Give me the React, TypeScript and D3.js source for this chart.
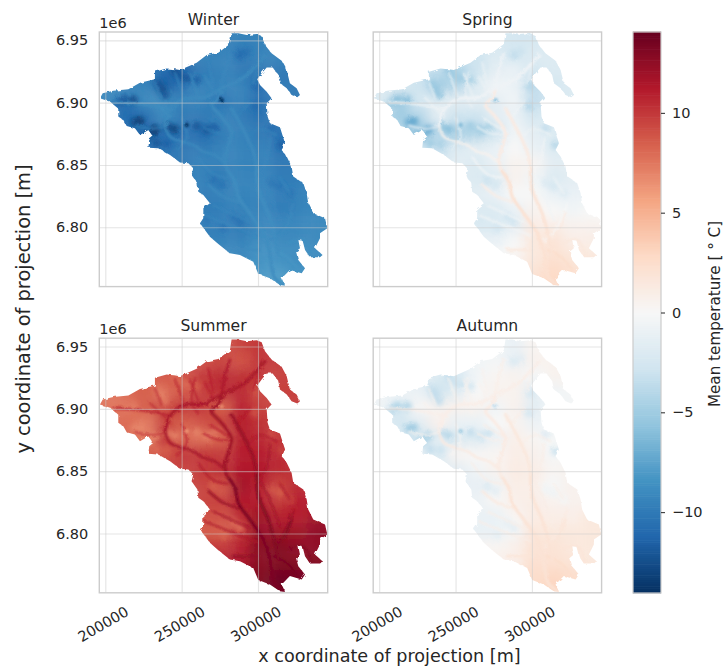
import React, { useEffect, useRef } from 'react';
import * as d3 from 'd3';

// coordinates below are in km of the projection
const seasons = ['Winter', 'Spring', 'Summer', 'Autumn'];

const outline: [number, number][] = [
  [282.7, 6955.6], [287.1, 6955.6], [292.6, 6954.3], [299.1, 6955.1], [302.4, 6953.5], [304.6, 6946.3], [308.9, 6939.6],
  [315.5, 6933.7], [318.8, 6926.2], [320.9, 6915.5], [325.3, 6911.5], [327.5, 6906.1], [325.7, 6904.3], [322.0, 6906.1],
  [318.8, 6911.5], [314.4, 6915.5], [313.3, 6922.2], [309.6, 6928.3], [305.7, 6928.3], [302.4, 6923.5], [299.5, 6918.7],
  [301.3, 6914.2], [305.7, 6908.8], [308.9, 6903.5], [305.7, 6899.5], [306.3, 6888.8], [307.8, 6883.4], [314.4, 6880.2],
  [317.7, 6867.4], [315.5, 6862.0], [318.8, 6856.7], [322.0, 6848.7], [323.1, 6840.7], [329.7, 6835.3], [331.9, 6827.3],
  [332.9, 6819.2], [336.2, 6811.2], [343.9, 6807.2], [345.4, 6799.2], [340.6, 6795.2], [340.6, 6791.2], [337.3, 6783.1],
  [342.3, 6777.8], [340.6, 6775.9], [334.0, 6775.9], [330.8, 6781.8], [329.2, 6789.3], [326.4, 6789.8], [327.5, 6783.1],
  [324.9, 6780.5], [326.4, 6773.8], [330.8, 6767.1], [328.6, 6763.1], [320.9, 6765.8], [315.5, 6759.1], [317.7, 6753.2],
  [314.4, 6753.7], [307.8, 6759.1], [300.2, 6762.6], [296.9, 6772.4], [288.2, 6777.8], [281.6, 6779.1], [274.0, 6786.6],
  [268.5, 6792.5], [262.0, 6803.2], [264.2, 6807.2], [264.2, 6815.2], [268.5, 6819.2], [264.2, 6825.9], [260.9, 6828.6],
  [260.3, 6835.3], [256.5, 6842.0], [257.6, 6847.3], [254.4, 6851.3], [248.9, 6851.9], [242.4, 6858.0], [234.7, 6863.4],
  [228.2, 6863.9], [228.8, 6870.0], [231.4, 6872.7], [228.2, 6878.1], [222.7, 6874.1], [219.4, 6879.4], [214.0, 6881.3],
  [211.8, 6886.1], [208.5, 6888.8], [208.5, 6895.4], [203.1, 6900.8], [196.5, 6903.5], [198.3, 6907.5], [205.2, 6909.6],
  [215.1, 6910.7], [222.7, 6916.0], [232.5, 6918.7], [232.5, 6924.9], [240.2, 6927.5], [248.9, 6926.2], [259.8, 6932.1],
  [266.4, 6938.2], [274.0, 6940.1], [281.6, 6947.1],
];

// coarse mean temperature per season
const gridX = [201, 214, 226, 239, 251, 264, 276, 289, 301, 314, 326, 339];
const gridY = [6951, 6939, 6926, 6914, 6901, 6889, 6876, 6864, 6851, 6839, 6826, 6814, 6801, 6789, 6776, 6764, 6751];

const winter = [
  [-9.5, -9.5, -9.5, -9.5, -9.5, -9.5, -9.5, -9.5, -9.5, -9.5, -9.5, -9.5],
  [-9.5, -9.5, -9.5, -10, -10, -9.5, -9.5, -10.2, -9.5, -9.5, -9.5, -9.5],
  [-10, -10, -10, -11, -11.3, -10, -9.5, -10, -10, -10, -10, -10],
  [-9, -9, -9.5, -11.5, -10.5, -9.5, -9.5, -9.5, -10.5, -10, -10, -10],
  [-9, -10.5, -9, -9, -9.5, -9.5, -10.3, -9.5, -10.5, -10, -10, -10],
  [-10, -11, -10.5, -9, -10, -10, -9.5, -10, -10.5, -10, -10, -10],
  [-10, -10.5, -11.5, -11, -10.5, -11, -10, -9.5, -10, -10.5, -10, -10],
  [-10, -10, -10.5, -10.5, -10, -10, -9.5, -9.5, -9.5, -10.5, -10, -10],
  [-10, -10, -10, -10, -10, -9.5, -9.5, -9.5, -9.5, -10, -10, -10],
  [-9.8, -9.8, -9.8, -9.8, -9.8, -9.5, -10, -9.3, -9.3, -9.8, -9.8, -9.8],
  [-9.5, -9.5, -9.5, -9.5, -9.5, -9.7, -9.5, -9.5, -9.3, -9.7, -9.5, -9.5],
  [-9.5, -9.5, -9.5, -9.5, -9.5, -9.8, -9.8, -9.5, -9.3, -9.8, -9.5, -9.3],
  [-9.5, -9.5, -9.5, -9.5, -9.5, -9.7, -9.7, -10, -9.2, -9.2, -9.2, -9],
  [-9.5, -9.5, -9.5, -9.5, -9.5, -9.5, -9.5, -9.5, -8.8, -9, -9, -9],
  [-9, -9, -9, -9, -9, -9, -9, -9.2, -8.5, -8.7, -8.8, -8.8],
  [-8.5, -8.5, -8.5, -8.5, -8.5, -8.5, -8.5, -8.5, -8.2, -8, -8.5, -8.5],
  [-8, -8, -8, -8, -8, -8, -8, -8, -8, -8, -8, -8],
];

const spring = [
  [-2, -2, -2, -2, -2, -2, -2.5, -2.5, -2.5, -2, -2, -2],
  [-3, -3, -3, -3, -3, -3, -2, -2.8, -2, -2, -2, -2],
  [-3, -3, -3, -3.5, -4.5, -3, -1.5, -1, -2.5, -2, -2, -2],
  [-2, -2, -3, -5, -4, -2, -0.5, -1, -3.5, -2.5, -2, -2],
  [-2, -5, -2.5, -1.5, -1.5, -1.5, -1.5, -0.5, -3.5, -2.5, -2, -2],
  [-4, -5, -4, -1.5, -3, -3, -1.5, -1, -2.5, -2, -2, -2],
  [-4, -4, -6, -4, -5, -4.5, -3, -0.5, -1.5, -2, -2, -2],
  [-3, -3, -3, -3.5, -2, -1.5, -1, 0, -1, -2, -2, -2],
  [-2, -2, -2, -2, -1.5, -2, -1, 0.5, 0.3, -1.5, -1.5, -1.5],
  [-2, -2, -2, -2, -2, -2, -2, 0.5, -0.5, -2, -1.5, -1.5],
  [-2, -2, -2, -2, -2, -1.5, -1, 0, 0, -1, -1, -1],
  [-2, -2, -2, -2, -2, -2, -2, -1, 0.5, 0, -0.5, 0],
  [-2, -2, -2, -2, -2, -2.2, -2.2, -1.5, 1.2, 1, 0.6, 0.5],
  [-1, -1, -1, -1, -1, -1, -1, 0, 1.5, 2, 1, 1],
  [0, 0, 0, 0, 0, 0, 0, 0.3, 1.5, 2.2, 1.8, 1.5],
  [1, 1, 1, 1, 1, 1, 1, 1, 2, 2.8, 2.2, 2],
  [3, 3, 3, 3, 3, 3, 3, 3, 3, 3, 3, 3],
];

const summer = [
  [9, 9, 9, 9, 9, 9, 9, 9.5, 10, 10, 10, 10],
  [9, 9, 9, 9, 9, 9, 9.5, 9, 10, 10, 10, 10],
  [8.5, 8.5, 8.5, 8.7, 9, 10, 10.5, 10.3, 10, 9.5, 9.5, 9.5],
  [7.5, 8, 8.5, 7.8, 8.7, 9.7, 10.5, 10.5, 9.5, 9.7, 9.7, 9.7],
  [7.5, 7.5, 8.5, 9.3, 10, 10, 8.5, 10.8, 9.7, 9.7, 9.7, 9.7],
  [8, 8, 7.3, 9.5, 8.5, 9, 9.7, 11, 10.3, 10, 10, 10],
  [8, 8, 7.3, 10, 8, 7.8, 8.3, 11, 10.5, 10, 10, 10],
  [8.5, 8.5, 8.5, 9, 10, 10, 9.8, 11, 11, 10.5, 10.5, 10.5],
  [9.5, 9.5, 9.5, 9.5, 9.5, 10, 10.5, 11.3, 11.3, 10.7, 10, 10],
  [9.5, 9.5, 9.5, 9.5, 9.5, 9.5, 9, 11.8, 11, 9.5, 10.5, 10.5],
  [9.5, 9.5, 9.5, 9.5, 9.5, 9.5, 9.7, 11.3, 11, 9.7, 11, 11],
  [9, 9, 9, 9, 9, 9, 9, 10.5, 12, 11, 11, 12],
  [8.5, 8.5, 8.5, 8.5, 8.5, 8.5, 8.5, 10, 12.3, 12, 12, 12.5],
  [10, 10, 10, 10, 10, 10, 10, 11, 12.8, 13, 12.5, 12.5],
  [11.5, 11.5, 11.5, 11.5, 11.5, 11.5, 11.5, 11.5, 12.8, 13, 13, 13],
  [13, 13, 13, 13, 13, 13, 13, 13, 13, 13.8, 13.5, 13.5],
  [14, 14, 14, 14, 14, 14, 14, 14, 14, 14, 14, 14],
];

const autumn = [
  [-0.5, -0.5, -0.5, -0.5, -0.5, -0.5, -0.5, -1, 0.3, 0.3, 0.3, 0.3],
  [-1, -1, -1, -1, -1, -0.5, -0.3, -1.2, 0.6, 0.5, 0.5, 0.5],
  [-1.5, -1.5, -1.5, -2, -2.5, -0.5, 0.3, 0.5, -0.2, 0.5, 0.5, 0.5],
  [-0.5, -0.5, -1, -3, -1.5, 0, 0.5, 0.5, -1.5, -0.5, -0.3, -0.3],
  [-0.7, -2.5, 0.2, 0.5, 0.5, 0.5, -0.5, 0.6, -1.5, -0.5, -0.3, -0.3],
  [-2, -2.5, -1.5, 0.7, -1, -1, 0, 0.4, -0.8, -0.5, -0.3, -0.3],
  [-2, -2, -3.3, -1.5, -2.3, -2, -1, 0.8, 0.3, -0.2, 0, 0],
  [-1.5, -1.5, -1.5, -2, 0.3, 0.2, 0.3, 1, 0.7, -0.3, 0, 0],
  [-1.5, -1.5, -1.5, -1.5, -1.5, -0.5, 0.5, 1.2, 1, 0.3, 0.5, 0.5],
  [-1.2, -1.2, -1.2, -1.2, -1.2, -1.2, -0.7, 1, 0.8, -0.2, 0.6, 0.6],
  [-0.8, -0.8, -0.8, -0.8, -0.8, -0.8, 0.2, 0.8, 1, 0.5, 0.6, 0.6],
  [-1, -1, -1, -1, -1, -1, -1, 0.3, 1.2, 1, 0.9, 1.5],
  [-1, -1, -1, -1, -1, -1, -1, -0.3, 1.7, 1.5, 1.5, 1.5],
  [0.3, 0.3, 0.3, 0.3, 0.3, 0.3, 0.3, 0.8, 2, 2, 1.5, 1.5],
  [1, 1, 1, 1, 1, 1, 1, 1, 2.3, 2.2, 2, 1.5],
  [2, 2, 2, 2, 2, 2, 2, 2, 2.5, 3, 2.5, 2.5],
  [3, 3, 3, 3, 3, 3, 3, 3, 3, 3, 3, 3],
];

const grids = [winter, spring, summer, autumn];

// high ground: x, y, winter, spring, summer, autumn
const peaks = [
  [222.7, 6885.3, -13.5, -7.5, 6.8, -5],
  [232.5, 6878.1, -13.5, -7, 7, -4.5],
  [245.6, 6878.6, -13, -6, 7, -4],
  [236.9, 6911.5, -12.5, -5.5, 7, -3.5],
  [266.4, 6878.1, -12, -5, 7, -3],
  [253.3, 6919.5, -12, -5, 8, -3],
  [245.6, 6925.7, -12.5, -5.5, 8, -3.5],
  [211.8, 6902.1, -12, -6, 7.5, -4.5],
  [240.2, 6866.8, -11.5, -4.5, 8.5, -3],
  [288.2, 6938.2, -11, -3.5, 9, -2],
  [298.0, 6896.8, -11, -4, 9, -2.5],
  [315.5, 6866.0, -11.5, -4, 9.5, -3],
  [270.7, 6838.0, -10.5, -3, 8.5, -2],
  [309.0, 6835.3, -10.2, -2, 8.8, -0.5],
  [288.2, 6804.5, -10.5, -2.8, 7.8, -1.5],
  [218.3, 6902.1, -12.5, -6, 7.3, -4.3],
  [208.5, 6899.4, -11.5, -5.5, 7.8, -4],
  [219.4, 6884.5, -13, -7, 7, -5],
  [228.2, 6874.1, -13, -6.5, 7, -4.5],
  [233.6, 6867.4, -12, -5, 8, -3.5],
  [241.3, 6880.7, -12.5, -5.5, 7.5, -3.5],
  [259.8, 6881.3, -12, -5, 7, -3.5],
  [271.8, 6880.7, -11.5, -4.5, 7.5, -3],
  [234.7, 6915.5, -12, -5, 7.5, -3.5],
  [239.1, 6906.1, -12, -5.5, 7.5, -3.5],
  [259.8, 6918.2, -11.5, -4.5, 8.5, -2.5],
  [247.8, 6922.2, -12, -5, 8, -3],
  [299.1, 6912.8, -11, -4, 9, -2.5],
  [292.6, 6940.9, -10.5, -3, 9.2, -1.5],
  [308.9, 6879.4, -10.8, -3.5, 9.2, -1.8],
  [314.4, 6832.6, -10.3, -2.5, 8.5, -0.7],
  [321.0, 6827.3, -10.3, -2, 9.5, -0.3],
  [276.2, 6834.0, -10.3, -2.5, 8.8, -1.5],
  [283.8, 6808.5, -10.3, -2.8, 8, -1.3],
  [277.3, 6799.2, -10.3, -2.6, 8.3, -1.3],
  [266.4, 6805.9, -10.2, -2.3, 8.8, -1],
];

// small sharp summits
const summits = [
  [276.2, 6901.9, -14, -5.5, 6.8, -3.5],
  [253.3, 6882.1, -14, -6, 6.3, -5],
];

// valleys: kind 0 trunk, 1 tributary, 2 side stream; temp is winter, spring, summer, autumn
const rivers: { kind: number; temp: number[]; points: [number, number][] }[] = [
  { kind: 0, temp: [-9, -0.6, 11.6, 0.9], points: [[304.6, 6938.2], [292.6, 6922.2], [286.0, 6916.8], [276.2, 6911.5], [265.3, 6904.3], [251.1, 6902.7], [242.4, 6894.1], [239.1, 6882.1]] },
  { kind: 0, temp: [-9, 1.2, 12, 1.2], points: [[276.2, 6911.5], [274.0, 6903.5], [269.6, 6898.1], [275.1, 6890.1], [282.7, 6876.7], [281.6, 6868.7], [278.4, 6855.3], [279.9, 6846.0]] },
  { kind: 0, temp: [-8.8, 2.2, 13.3, 2], points: [[279.9, 6846.0], [284.9, 6836.6], [287.1, 6824.6], [294.7, 6811.2], [303.5, 6795.2], [307.8, 6779.1], [310.5, 6760.4], [317.0, 6753.7]] },
  { kind: 0, temp: [-9, 1.3, 12.2, 1.5], points: [[282.7, 6895.4], [291.5, 6875.4], [296.9, 6860.7], [299.1, 6848.7]] },
  { kind: 0, temp: [-8.8, 2, 13, 2], points: [[299.1, 6848.7], [300.2, 6830.0], [306.7, 6811.2], [310.5, 6795.2], [313.3, 6779.1]] },
  { kind: 1, temp: [-9, 0.5, 11.8, 1.3], points: [[239.1, 6882.1], [242.4, 6872.7], [257.6, 6866.0], [264.2, 6860.7], [271.8, 6858.0], [278.4, 6851.3]] },
  { kind: 1, temp: [-9, 1, 12.2, 1.3], points: [[267.5, 6834.0], [277.3, 6824.6], [287.1, 6820.6]] },
  { kind: 1, temp: [-9, 1.3, 13, 1.8], points: [[322.0, 6811.2], [318.8, 6800.5], [311.1, 6788.5]] },
  { kind: 1, temp: [-8.7, 1.5, 13, 1.8], points: [[335.1, 6777.8], [329.7, 6789.8], [319.8, 6787.2]] },
  { kind: 1, temp: [-8.3, 2.5, 13.5, 2.5], points: [[326.4, 6765.8], [318.8, 6776.5], [310.0, 6781.8]] },
  { kind: 1, temp: [-9, 1.5, 12.5, 1.8], points: [[283.8, 6781.8], [301.3, 6781.8]] },
  { kind: 1, temp: [-9.2, -0.6, 11.5, 0.8], points: [[281.6, 6939.6], [277.3, 6920.9], [276.2, 6911.5]] },
  { kind: 2, temp: [-9, -0.8, 11, 0.5], points: [[265.3, 6920.9], [270.7, 6908.8]] },
  { kind: 2, temp: [-9, -0.8, 11, 0.5], points: [[255.4, 6923.5], [260.9, 6906.1]] },
  { kind: 2, temp: [-8.7, -0.8, 10.5, 0.5], points: [[229.3, 6904.8], [242.4, 6888.8]] },
  { kind: 2, temp: [-9.2, -1, 11, 0.3], points: [[250, 6888.2], [253.3, 6872.1], [246.8, 6862.8]] },
  { kind: 2, temp: [-9.2, -0.5, 12, 1], points: [[301.3, 6842.7], [307.9, 6826.7], [314.4, 6805.3]] },
  { kind: 2, temp: [-9.2, 0, 12.5, 1.3], points: [[323.2, 6818.7], [316.6, 6799.9], [307.9, 6789.2]] },
  { kind: 2, temp: [-9.2, 0, 11.5, 1], points: [[261, 6856.1], [270.8, 6842.7], [280.6, 6840]] },
  { kind: 2, temp: [-9.2, -0.3, 11.8, 1], points: [[307.9, 6872.1], [305.7, 6853.4], [301.3, 6845.4]] },
  { kind: 2, temp: [-9.3, -0.7, 11.5, 0.8], points: [[314.4, 6840], [321, 6826.7]] },
  { kind: 2, temp: [-9.5, -0.5, 11, 0.8], points: [[264.2, 6880.2], [275.1, 6874.8], [283.9, 6876.2]] },
  { kind: 1, temp: [-8.8, -0.7, 10.8, 0.9], points: [[206.4, 6900.3], [223.8, 6898.9], [241.3, 6894.9]] },
  { kind: 2, temp: [-9.5, -1.2, 10, 0.4], points: [[219.4, 6881.6], [230.4, 6878.9], [240.2, 6881.6]] },
  { kind: 2, temp: [-9.3, -1, 10.5, 0.5], points: [[232.5, 6916.3], [236.9, 6903]] },
  { kind: 2, temp: [-9.3, -0.9, 11, 0.5], points: [[258.7, 6924.3], [256.6, 6905.6], [260.9, 6896.3]] },
  { kind: 2, temp: [-9.5, -1, 10.8, 0.5], points: [[245.6, 6924.3], [251.1, 6905.6]] },
  { kind: 2, temp: [-9.2, -0.8, 11, 0.6], points: [[267.5, 6932.4], [270.7, 6913.6]] },
  { kind: 2, temp: [-9.5, -1, 11, 0.7], points: [[301.3, 6934.3], [296.9, 6915.5]] },
  { kind: 2, temp: [-9.5, -0.5, 11.3, 1], points: [[294.7, 6900.5], [286, 6887.2]] },
  { kind: 2, temp: [-9.5, -0.7, 11.5, 1], points: [[312.2, 6873.8], [301.3, 6879.1], [294.7, 6873.8]] },
  { kind: 2, temp: [-9.5, -0.3, 11.2, 1], points: [[268.5, 6887.2], [282.7, 6876.7]] },
  { kind: 2, temp: [-9.2, -0.3, 11.5, 1], points: [[265.3, 6809.6], [281.6, 6801.6], [299.1, 6793.6]] },
  { kind: 2, temp: [-9.2, -0.3, 11.8, 1], points: [[270.8, 6817.6], [294.7, 6804.2]] },
];

const xTicks = [200, 250, 300];
const yTicks = [6800, 6850, 6900, 6950];
const cbarTicks = [-10, -5, 0, 5, 10];
const rdBu = ['#053061', '#2166ac', '#4393c3', '#92c5de', '#d1e5f0', '#f7f7f7', '#fddbc7', '#f4a582', '#d6604d', '#b2182b', '#67001f'];
const riverWidth = [3, 2.2, 1.5];

const textColor = '#262626';
const spineColor = '#cccccc';
const font = 'DejaVu Sans';

export default function App() {
  const ref = useRef<SVGSVGElement>(null);

  useEffect(() => {
    const svg = d3.select(ref.current);
    svg.selectAll('*').remove();

    const vMax = 14.05;
    const color = d3.scaleLinear<string>()
      .domain(d3.range(11).map(i => -vMax + (i * 2 * vMax) / 10))
      .range(rdBu)
      .interpolate(d3.interpolateRgb);

    const defs = svg.append('defs');
    const blur = (id: string, s: number) => defs.append('filter').attr('id', id)
      .attr('filterUnits', 'userSpaceOnUse').attr('x', 0).attr('y', 0).attr('width', 725).attr('height', 671)
      .append('feGaussianBlur').attr('stdDeviation', s);
    blur('blurBase', 6);
    blur('blurRiver', 0.8);
    blur('blurPeak', 2.5);
    blur('blurSummit', 1.3);
    const rough = defs.append('filter').attr('id', 'rough')
      .attr('filterUnits', 'userSpaceOnUse').attr('x', 0).attr('y', 0).attr('width', 725).attr('height', 671);
    rough.append('feTurbulence').attr('type', 'fractalNoise').attr('baseFrequency', 0.22).attr('numOctaves', 2).attr('seed', 4).attr('result', 'n');
    rough.append('feDisplacementMap').attr('in', 'SourceGraphic').attr('in2', 'n').attr('scale', 3.5);

    const panelW = 228.4;
    const panelH = 254.6;
    const lefts = [99.3, 373.2];
    const tops = [32, 338.2];

    seasons.forEach((name, s) => {
      const col = s % 2;
      const row = Math.floor(s / 2);
      const left = lefts[col];
      const top = tops[row];
      const x = d3.scaleLinear().domain([196.07, 345.65]).range([left, left + panelW]);
      const y = d3.scaleLinear().domain([6752.4, 6956.7]).range([top + panelH, top]);

      const clipId = `clip-${name}`;
      const path = d3.line().x(d => x(d[0])).y(d => y(d[1]));
      defs.append('clipPath').attr('id', clipId)
        .append('path').attr('d', path(outline) + 'Z');

      const g = svg.append('g').attr('filter', 'url(#rough)')
        .append('g').attr('clip-path', `url(#${clipId})`);

      // coarse field
      const base = g.append('g').attr('filter', 'url(#blurBase)');
      grids[s].forEach((vals, r) => {
        vals.forEach((v, c) => {
          const x0 = x(gridX[c] - 6.25 - (c === 0 ? 20 : 0));
          const x1 = x(gridX[c] + 6.25 + (c === gridX.length - 1 ? 20 : 0));
          const y0 = y(gridY[r] + 6.25 + (r === 0 ? 20 : 0));
          const y1 = y(gridY[r] - 6.25 - (r === gridY.length - 1 ? 20 : 0));
          base.append('rect').attr('x', x0).attr('y', y0)
            .attr('width', x1 - x0 + 0.5).attr('height', y1 - y0 + 0.5)
            .attr('fill', color(v));
        });
      });

      // high ground
      g.append('g').attr('filter', 'url(#blurPeak)')
        .selectAll('circle').data(peaks).join('circle')
        .attr('cx', d => x(d[0])).attr('cy', d => y(d[1])).attr('r', 4.2)
        .attr('fill', d => color(d[2 + s]));

      // valleys
      const riverLine = d3.line().x(d => x(d[0])).y(d => y(d[1])).curve(d3.curveCatmullRom);
      g.append('g').attr('filter', 'url(#blurRiver)').attr('fill', 'none').attr('stroke-linecap', 'round')
        .selectAll('path').data([...rivers].reverse()).join('path')
        .attr('d', d => riverLine(d.points))
        .attr('stroke-width', d => riverWidth[d.kind])
        .attr('stroke', d => color(d.temp[s]));

      g.append('g').attr('filter', 'url(#blurSummit)')
        .selectAll('circle').data(summits).join('circle')
        .attr('cx', d => x(d[0])).attr('cy', d => y(d[1])).attr('r', 2.2)
        .attr('fill', d => color(d[2 + s]));

      // axes and grid lie on top of the field
      const xAxis = d3.axisBottom(x).tickValues(xTicks).tickSize(-panelH)
        .tickFormat(d => (row === 1 ? String(+d * 1000) : ''));
      const yAxis = d3.axisLeft(y).tickValues(yTicks).tickSize(-panelW).tickPadding(11)
        .tickFormat(d => (col === 0 ? (+d / 1000).toFixed(2) : ''));

      const gx = svg.append('g').attr('transform', `translate(0,${top + panelH})`).call(xAxis);
      const gy = svg.append('g').attr('transform', `translate(${left},0)`).call(yAxis);
      [gx, gy].forEach(a => {
        a.select('.domain').remove();
        a.selectAll('.tick line').attr('stroke', spineColor).attr('stroke-opacity', 0.5).attr('stroke-width', 1.1);
        a.selectAll('.tick text').attr('fill', textColor).attr('font-family', font).attr('font-size', 14.5);
      });
      gx.selectAll('.tick text')
        .attr('text-anchor', 'end')
        .attr('transform', 'rotate(-30)')
        .attr('dx', 0).attr('dy', 0).attr('x', 9.8).attr('y', 31);

      svg.append('rect').attr('x', left).attr('y', top).attr('width', panelW).attr('height', panelH)
        .attr('fill', 'none').attr('stroke', spineColor).attr('stroke-width', 1.4);

      svg.append('text').attr('x', left + panelW / 2).attr('y', top - 7)
        .attr('text-anchor', 'middle').attr('fill', textColor)
        .attr('font-family', font).attr('font-size', 15.6).text(name);

      if (col === 0) {
        svg.append('text').attr('x', left).attr('y', top - 4)
          .attr('fill', textColor).attr('font-family', font).attr('font-size', 14.5).text('1e6');
      }
    });

    // colourbar
    const cbar = d3.scaleLinear().domain([-vMax, vMax]).range([593, 32]);
    const bands = d3.scaleBand<number>().domain(d3.range(256)).range([593, 32]);
    svg.append('g').selectAll('rect').data(d3.range(256)).join('rect')
      .attr('x', 633).attr('width', 28)
      .attr('y', d => bands(d)! - 0.3)
      .attr('height', bands.bandwidth() + 0.6)
      .attr('fill', d => color(-vMax + ((d + 0.5) / 256) * 2 * vMax));
    svg.append('rect').attr('x', 633).attr('y', 32).attr('width', 28).attr('height', 561)
      .attr('fill', 'none').attr('stroke', spineColor).attr('stroke-width', 1.2);

    const cAxis = d3.axisRight(cbar).tickValues(cbarTicks).tickSize(4).tickPadding(7)
      .tickFormat(d => String(d).replace('-', '\u2212'));
    const gc = svg.append('g').attr('transform', 'translate(661,0)').call(cAxis);
    gc.select('.domain').remove();
    gc.selectAll('.tick line').attr('stroke', textColor).attr('stroke-width', 1);
    gc.selectAll('.tick text').attr('fill', textColor).attr('font-family', font).attr('font-size', 14.5);

    svg.append('text').attr('transform', 'translate(719.5,314) rotate(-90)')
      .attr('text-anchor', 'middle').attr('fill', textColor).attr('font-family', font).attr('font-size', 15.2)
      .text('Mean temperature [ \u00b0 C]');

    svg.append('text').attr('x', 389.5).attr('y', 661.5)
      .attr('text-anchor', 'middle').attr('fill', textColor).attr('font-family', font).attr('font-size', 17.6)
      .text('x coordinate of projection [m]');
    svg.append('text').attr('transform', 'translate(30,309) rotate(-90)')
      .attr('text-anchor', 'middle').attr('fill', textColor).attr('font-family', font).attr('font-size', 19.4)
      .text('y coordinate of projection [m]');
  }, []);

  return <svg ref={ref} width={725} height={671} style={{ position: 'absolute', left: 0, top: 0, background: '#fff' }} />;
}
